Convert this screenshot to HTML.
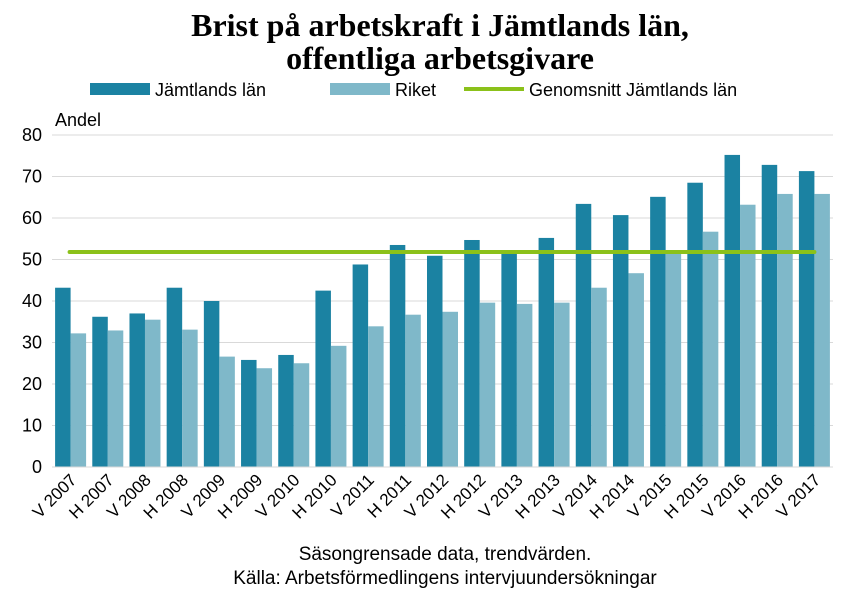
<!DOCTYPE html>
<html><head><meta charset="utf-8"><style>
body{margin:0;background:#fff;width:857px;height:591px;overflow:hidden}
svg{display:block;font-family:"Liberation Sans",sans-serif}
</style></head><body>
<svg id="c" width="857" height="591">
<text x="440" y="36" text-anchor="middle" font-family="Liberation Serif" font-weight="bold" font-size="32">Brist på arbetskraft i Jämtlands län,</text>
<text x="440" y="69" text-anchor="middle" font-family="Liberation Serif" font-weight="bold" font-size="32">offentliga arbetsgivare</text>
<g font-size="18">
<rect x="90" y="83" width="60" height="12" fill="#1b82a2"/>
<text x="155" y="96">Jämtlands län</text>
<rect x="330" y="83" width="60" height="12" fill="#7fb8c9"/>
<text x="395" y="96">Riket</text>
<rect x="464" y="87" width="60" height="4" fill="#8bc11a"/>
<text x="529" y="96">Genomsnitt Jämtlands län</text>
</g>
<text x="55" y="126" font-size="18">Andel</text>
<g id="grid"></g><g id="bars"></g><g id="xl"></g>
<text x="445" y="560" text-anchor="middle" font-size="19">Säsongrensade data, trendvärden.</text>
<text x="445" y="584" text-anchor="middle" font-size="19">Källa: Arbetsförmedlingens intervjuundersökningar</text>
</svg>
<script>
const categories=["V 2007","H 2007","V 2008","H 2008","V 2009","H 2009","V 2010","H 2010","V 2011","H 2011","V 2012","H 2012","V 2013","H 2013","V 2014","H 2014","V 2015","H 2015","V 2016","H 2016","V 2017"];
const jamtland=[43.2,36.2,37,43.2,40,25.8,27,42.5,48.8,53.5,50.9,54.7,52,55.2,63.4,60.7,65.1,68.5,75.2,72.8,71.3];
const riket=[32.2,32.9,35.5,33.1,26.6,23.8,25,29.2,33.9,36.7,37.4,39.6,39.3,39.6,43.2,46.7,51.8,56.7,63.2,65.8,65.8];
const average=[51.8];
const yTicks=[0,10,20,30,40,50,60,70,80];
const NS="http://www.w3.org/2000/svg";
const x0=52,x1=833,y0=467,yTop=135,yMax=80;
const step=(x1-x0)/categories.length;
const y=v=>y0-(v/yMax)*(y0-yTop);
const xc=i=>x0+step*(i+0.5);
function mk(t,a,p){const e=document.createElementNS(NS,t);for(const k in a)e.setAttribute(k,a[k]);p.appendChild(e);return e;}
const g=document.getElementById('grid'),b=document.getElementById('bars'),xl=document.getElementById('xl');
yTicks.forEach(v=>{
 const l=mk('line',{x1:x0,x2:x1,y1:y(v),y2:y(v),stroke:'#d9d9d9','stroke-width':1},g);
 
 
 const t=mk('text',{x:42,y:y(v)+6,'text-anchor':'end','font-size':18},g);
 t.textContent=v;
 
 
});
const bw=15.5;
categories.forEach((c,i)=>{
 const r1=mk('rect',{x:xc(i)-bw,y:y(jamtland[i]),width:bw,height:y0-y(jamtland[i]),fill:'#1b82a2'},b);
 
 
 const r2=mk('rect',{x:xc(i),y:y(riket[i]),width:bw,height:y0-y(riket[i]),fill:'#7fb8c9'},b);
 
 
 const t=mk('text',{x:xc(i)+7,y:481,'text-anchor':'end','font-size':17,transform:`rotate(-45 ${xc(i)+7} 481)`},xl);
 t.textContent=c;
 
 
});
const ln=mk('line',{x1:xc(0)-1,x2:xc(categories.length-1),y1:y(average[0]),y2:y(average[0]),stroke:'#8bc11a','stroke-width':4,'stroke-linecap':'round'},b);


const ax=mk('line',{x1:x0,x2:x1,y1:y0,y2:y0,stroke:'#d9d9d9','stroke-width':1},b);


</script>
</body></html>
